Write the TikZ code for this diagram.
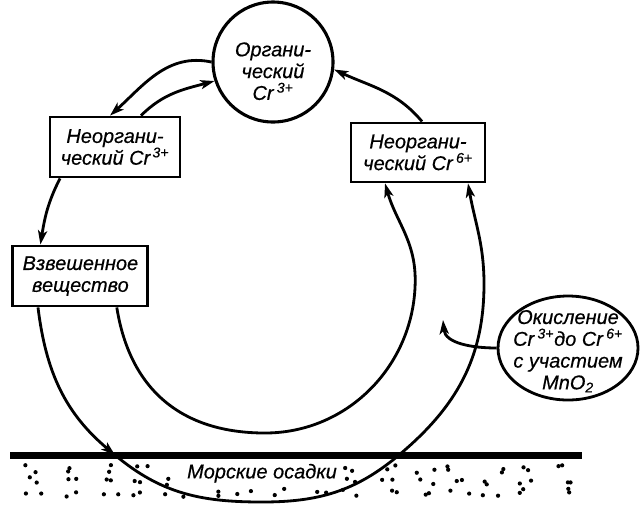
\documentclass[tikz,border=0pt]{standalone}
\usepackage{fontspec}
\setmainfont{Liberation Sans}[ItalicFeatures={FakeBold=0.5}]
\usetikzlibrary{arrows.meta,shapes.geometric}

\begin{document}
\begin{tikzpicture}[
    every node/.style={font=\itshape\fontsize{14.2}{15.5}\selectfont},
    >={Stealth[length=10pt,width=6.5pt,inset=2.5pt]},
    line width=2pt,
    chrom/.style={draw,rectangle,align=center,inner sep=2pt,minimum height=1.5cm},
    cyc/.style={->,line width=2pt}
]
\useasboundingbox (0,0) rectangle (16,-12.6);

% Chromium forms
\node[draw,circle,minimum size=3cm,line width=2.2pt] (org) at (6.825,-1.55) {};
\node[align=center] (orgtext) at (6.825,-1.78)
    {Органи-\\ческий\\Cr\,\textsuperscript{3+}};
\node[chrom,minimum width=3.25cm] (inorg3) at (2.875,-3.675)
    {Неоргани-\\ческий Cr\textsuperscript{\,3+}};
\node[chrom,minimum width=3.35cm,minimum height=1.475cm] (inorg6) at (10.45,-3.81)
    {Неоргани-\\ческий Cr\,\textsuperscript{6+}};
\node[chrom,minimum width=3.375cm] (susp) at (2.01,-6.9)
    {Взвешенное\\вещество};

% Oxidation by MnO2
\node[draw,ellipse,minimum width=3.5cm,minimum height=2.6cm] (oxid) at (14.2,-8.7) {};
\node[align=center] (oxidtext) at (14.2,-8.78)
    {Окисление\\Cr\,\textsuperscript{3+}до Cr\,\textsuperscript{6+}\\с участием\\MnO\textsubscript{2}};
\coordinate (oxtip) at (11.075,-8.0);

% Sea floor
\coordinate (seaL) at (0.25,-11.375);
\coordinate (seaR) at (14.55,-11.375);
\coordinate (sea1) at (2.875,-11.375);
\coordinate (sea2) at (9.975,-11.375);
\coordinate (outerlow) at (6.55,-12.55);
\coordinate (outerE) at (12.1,-7.1);
\coordinate (innerlow) at (6.625,-10.825);
\coordinate (innerE) at (10.38,-7.0);
\draw[line width=5pt] (seaL) -- (seaR);
\node (seabed) at (6.55,-11.83) {Морские осадки};

% sediment stipple, kept clear of the label
\pgfmathsetseed{5}
\foreach \col in {0,...,15} {
    \foreach \row in {0,1,2} {
        \foreach \rep in {1,2} {
            \pgfmathsetmacro\dotx{0.6+0.88*\col+0.6*rnd}
            \pgfmathsetmacro\doty{-11.62-0.3*\row-0.2*rnd}
            \pgfmathtruncatemacro\clear{(\dotx>4.45 && \dotx<8.6 && \row<2) ? 0 : 1}
            \ifnum\clear=1 \fill (\dotx,\doty) circle (1.5pt); \fi
        }
    }
}

% Exchange with organic Cr
\draw[cyc] (org.west) to[out=168,in=42] ([xshift=-0.125cm]inorg3.north);
\draw[cyc] ([xshift=0.65cm]inorg3.north) to[out=45,in=195] (org.198);
\draw[cyc] ([xshift=0.1cm]inorg6.north) to[out=130,in=-25] (org.-7);

% Outer loop
\draw[cyc] ([xshift=-1.375cm]inorg3.south) to[out=-117,in=81] ([xshift=-1.0cm]susp.north);
\draw[cyc] ([xshift=-1.06cm]susp.south) to[out=-83,in=140] (sea1);
\draw[cyc] (sea1) to[out=-40,in=180] (outerlow) to[out=0,in=-140] (sea2)
    to[out=40,in=-90] (outerE) to[out=90,in=-80] ([xshift=1.25cm]inorg6.south);

% Inner loop
\draw[cyc] ([xshift=0.91cm]susp.south) to[out=-81,in=180,looseness=1.1] (innerlow)
    to[out=0,in=-90] (innerE) to[out=90,in=-74] ([xshift=-0.825cm]inorg6.south);

\draw[cyc] (oxid.west) to[out=180,in=-85] (oxtip);

\end{tikzpicture}
\end{document}
